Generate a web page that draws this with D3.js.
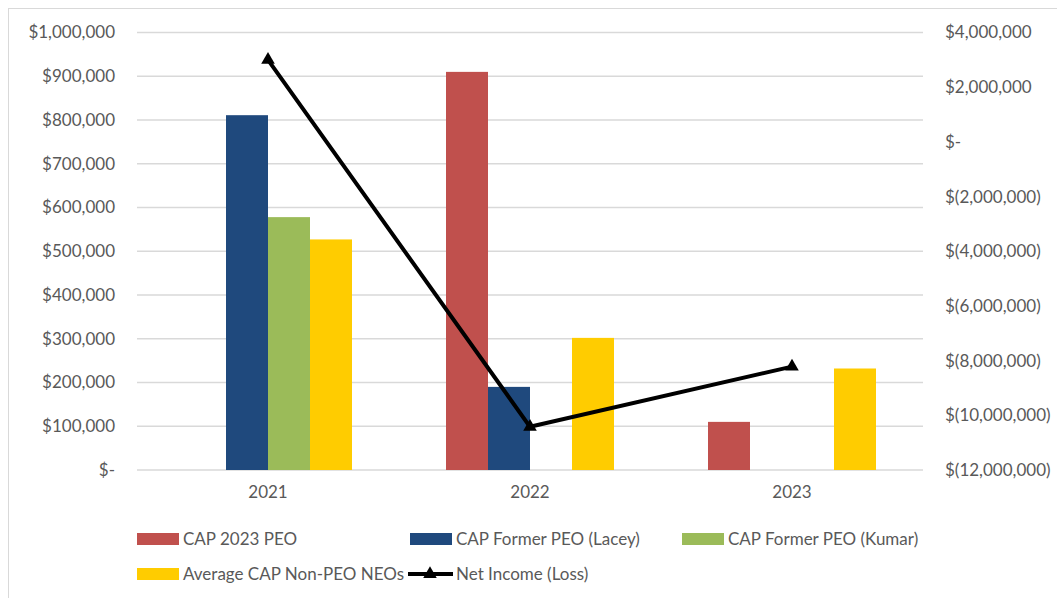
<!DOCTYPE html>
<html>
<head>
<meta charset="utf-8">
<script src="https://cdn.jsdelivr.net/npm/d3@7"></script>
<style>
  body { margin: 0; background: #fff; }
  svg text { font-family: Lato, "Open Sans", sans-serif; fill: #595959; }
</style>
</head>
<body>
<svg id="chart" width="1057" height="598"></svg>
<script>
// data
const years = ["2021", "2022", "2023"];
const seriesNames = ["CAP 2023 PEO", "CAP Former PEO (Lacey)", "CAP Former PEO (Kumar)", "Average CAP Non-PEO NEOs"];
const seriesColors = ["#c0504d", "#1f497d", "#9bbb59", "#ffcc00"];
const cap2023Peo = [0, 910000, 110000];
const capLacey = [811000, 190000, 0];
const capKumar = [578000, 0, 0];
const avgNonPeo = [527000, 302000, 232000];
const netIncome = [3000000, -10420000, -8220000];
const leftTicks = [0, 100000, 200000, 300000, 400000, 500000, 600000, 700000, 800000, 900000, 1000000];
const rightTicks = [-12000000, -10000000, -8000000, -6000000, -4000000, -2000000, 0, 2000000, 4000000];

const seriesValues = [cap2023Peo, capLacey, capKumar, avgNonPeo];

const margin = { top: 32.5, left: 137, right: 923, bottom: 470 };
const fontSize = 17;
const svg = d3.select("#chart");

// chart border
svg.append("rect")
  .attr("x", 8.5).attr("y", 8.5)
  .attr("width", 1070).attr("height", 620)
  .attr("fill", "none").attr("stroke", "#d9d9d9");

const x = d3.scaleBand().domain(years).range([margin.left, margin.right]);
const xs = d3.scaleBand().domain(d3.range(4))
  .range([0, x.bandwidth()]).paddingInner(0).paddingOuter(94 / 42 / 2);

const yL = d3.scaleLinear().domain([0, 1000000]).range([margin.bottom, margin.top]);
const yR = d3.scaleLinear().domain([-12000000, 4000000]).range([margin.bottom, margin.top]);

const fmtMoney = v => {
  if (v === 0) return "$-";
  const s = d3.format(",")(Math.abs(v));
  return v < 0 ? "$(" + s + ")" : "$" + s;
};

// gridlines
svg.append("g").selectAll("line").data(leftTicks).join("line")
  .attr("x1", margin.left).attr("x2", margin.right)
  .attr("y1", d => yL(d)).attr("y2", d => yL(d))
  .attr("stroke", "#d9d9d9").attr("stroke-width", 1.3);

// left axis
const leftAxis = svg.append("g")
  .attr("transform", `translate(${margin.left - 22},0)`)
  .call(d3.axisLeft(yL).tickValues(leftTicks).tickFormat(fmtMoney).tickSize(0).tickPadding(0));
leftAxis.select(".domain").remove();
leftAxis.selectAll("text").attr("font-size", fontSize).attr("fill", "#595959")
  .style("font-family", "Lato, sans-serif");

// right axis
const rightAxis = svg.append("g")
  .attr("transform", `translate(${margin.right + 22},0)`)
  .call(d3.axisRight(yR).tickValues(rightTicks).tickFormat(fmtMoney).tickSize(0).tickPadding(0));
rightAxis.select(".domain").remove();
rightAxis.selectAll("text").attr("font-size", fontSize).attr("fill", "#595959")
  .style("font-family", "Lato, sans-serif");

// bottom axis labels
const bottomAxis = svg.append("g")
  .attr("transform", `translate(0,${margin.bottom + 16})`)
  .call(d3.axisBottom(x).tickSize(0).tickPadding(0));
bottomAxis.select(".domain").remove();
bottomAxis.selectAll("text").attr("font-size", fontSize).attr("fill", "#595959")
  .style("font-family", "Lato, sans-serif");

// bars
seriesValues.forEach((vals, si) => {
  svg.append("g").selectAll("rect").data(vals).join("rect")
    .attr("x", (d, i) => x(years[i]) + xs(si))
    .attr("y", d => yL(d))
    .attr("width", xs.bandwidth())
    .attr("height", d => yL(0) - yL(d))
    .attr("fill", seriesColors[si]);
});

// net income line
const lineGen = d3.line()
  .x((d, i) => x(years[i]) + x.bandwidth() / 2)
  .y(d => yR(d));
svg.append("path").datum(netIncome)
  .attr("d", lineGen)
  .attr("fill", "none").attr("stroke", "#000").attr("stroke-width", 4)
  .attr("stroke-linejoin", "round");
const tri = d3.symbol().type(d3.symbolTriangle).size(80);
svg.append("g").selectAll("path").data(netIncome).join("path")
  .attr("d", tri)
  .attr("transform", (d, i) => `translate(${x(years[i]) + x.bandwidth() / 2},${yR(d)})`)
  .attr("fill", "#000");

// legend
const legendItems = [
  { name: seriesNames[0], color: seriesColors[0], x: 137, y: 539 },
  { name: seriesNames[1], color: seriesColors[1], x: 410, y: 539 },
  { name: seriesNames[2], color: seriesColors[2], x: 682, y: 539 },
  { name: seriesNames[3], color: seriesColors[3], x: 137, y: 574 },
  { name: "Net Income (Loss)", line: true, x: 410, y: 574 }
];
const lg = svg.append("g").selectAll("g").data(legendItems).join("g")
  .attr("transform", d => `translate(${d.x},${d.y})`);
lg.filter(d => !d.line).append("rect")
  .attr("x", 0).attr("y", -6).attr("width", 42).attr("height", 12)
  .attr("fill", d => d.color);
lg.filter(d => d.line).append("line")
  .attr("x1", -2).attr("x2", 43).attr("y1", 0).attr("y2", 0)
  .attr("stroke", "#000").attr("stroke-width", 4);
lg.filter(d => d.line).append("path")
  .attr("d", tri).attr("transform", "translate(20,0)").attr("fill", "#000");
lg.append("text")
  .attr("x", 46).attr("y", 0).attr("dy", "0.35em")
  .attr("font-size", fontSize)
  .text(d => d.name);
</script>
</body>
</html>
